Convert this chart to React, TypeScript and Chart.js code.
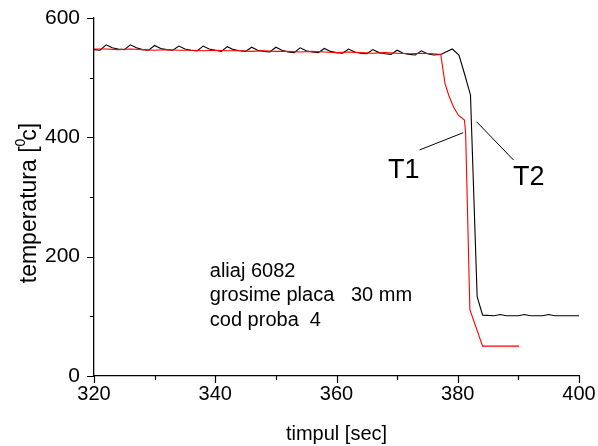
import React, { useEffect, useRef } from 'react';
import { Chart, registerables } from 'chart.js';

Chart.register(...registerables);

// T2 (black) thermocouple: time [s] and temperature [°C]
const T2_TIME = [
  320, 321, 322, 323, 324, 325, 326, 327, 328, 329, 330, 331, 332, 333, 334, 335, 336, 337, 338, 339,
  340, 341, 342, 343, 344, 345, 346, 347, 348, 349, 350, 351, 352, 353, 354, 355, 356, 357, 358, 359,
  360, 361, 362, 363, 364, 365, 366, 367, 368, 369, 370, 371, 372, 373, 374, 375, 376, 377.2, 379.1,
  380.2, 381.1, 382.1, 383.2, 384.1, 386, 387, 388, 390, 391, 392, 394, 395, 396, 398, 400,
];
const T2_TEMP = [
  547, 546, 555, 550, 548, 547, 555, 550, 547, 546, 554, 549, 547, 546, 553, 548, 546, 545, 553, 548,
  546, 544, 552, 547, 545, 544, 551, 546, 544, 543, 551, 546, 543, 542, 550, 545, 543, 542, 549, 544,
  542, 541, 548, 543, 541, 540, 547, 542, 540, 539, 546, 541, 539, 538, 545, 540, 538, 539, 548,
  538, 507, 471, 133, 102, 101, 103, 101, 101, 103, 101, 101, 103, 101, 101, 101,
];

// T1 (red) thermocouple
const T1_TIME = [
  320, 322, 324, 326, 328, 330, 332, 334, 336, 338, 340, 342, 344, 346, 348, 350, 352, 354, 356, 358,
  360, 362, 364, 366, 368, 370, 372, 374, 376, 377.2, 377.9, 378.5, 379.3, 380.1, 381.1, 381.3, 382,
  384.1, 390.1,
];
const T1_TEMP = [
  548, 548, 547, 548, 547, 546, 547, 546, 546, 545, 546, 545, 545, 544, 545, 544, 544, 543, 544, 543,
  542, 543, 542, 541, 542, 541, 540, 541, 540, 539, 490, 471, 451, 437, 429, 407, 111,
  50, 50,
];

const X_MIN = 320;
const X_MAX = 400;
const X_STEP = 10;
const X_LABEL_EVERY = 20;
const Y_MIN = 0;
const Y_MAX = 600;
const Y_STEP = 100;
const Y_LABEL_EVERY = 200;

const X_TITLE = 'timpul [sec]';
const Y_TITLE_PARTS = ['temperatura [', '0', 'c]'];
const INFO_LINES = ['aliaj 6082', 'grosime placa   30 mm', 'cod proba  4'];

const FONT = '"Liberation Sans", Arial, sans-serif';

const toPts = (xs: number[], ys: number[]) => xs.map((x, i) => ({ x, y: ys[i] }));

const decorPlugin = {
  id: 'decor',
  afterDraw(chart: any) {
    const ctx = chart.ctx as CanvasRenderingContext2D;
    const xs = chart.scales.x;
    const ys = chart.scales.y;
    const area = chart.chartArea;
    const px = (v: number) => xs.getPixelForValue(v);
    const py = (v: number) => ys.getPixelForValue(v);
    ctx.save();
    ctx.strokeStyle = '#000';
    ctx.lineWidth = 1.2;
    // tick marks (major / minor)
    ctx.beginPath();
    for (const t of xs.ticks) {
      const x = Math.round(px(t.value)) + 0.5;
      const len = t.value % X_LABEL_EVERY === 0 ? 7 : 4;
      ctx.moveTo(x, area.bottom);
      ctx.lineTo(x, area.bottom + len);
    }
    for (const t of ys.ticks) {
      const y = Math.round(py(t.value)) + 0.5;
      const len = t.value % Y_LABEL_EVERY === 0 ? 7 : 4;
      ctx.moveTo(area.left, y);
      ctx.lineTo(area.left - len, y);
    }
    ctx.stroke();

    // pointer lines for T1 / T2
    ctx.lineWidth = 1;
    ctx.beginPath();
    ctx.moveTo(px(373.7), py(378.8));
    ctx.lineTo(px(380.9), py(407.8));
    ctx.moveTo(px(383.1), py(426.2));
    ctx.lineTo(px(389.2), py(362));
    ctx.stroke();

    ctx.fillStyle = '#000';
    ctx.textBaseline = 'alphabetic';
    ctx.textAlign = 'left';
    ctx.font = `27px ${FONT}`;
    ctx.fillText('T1', px(368.5), py(331.8));
    ctx.fillText('T2', px(389.1), py(320));

    ctx.font = `20px ${FONT}`;
    const infoY = [165.9, 124.9, 84.6];
    INFO_LINES.forEach((s, i) => ctx.fillText(s, px(339.1), py(infoY[i])));

    // x title
    ctx.textAlign = 'center';
    ctx.fillText(X_TITLE, (area.left + area.right) / 2, 440);

    // y title (rotated, with superscript)
    ctx.save();
    ctx.translate(36, 203);
    ctx.rotate(-Math.PI / 2);
    ctx.textAlign = 'left';
    ctx.font = `23px ${FONT}`;
    const w1 = ctx.measureText(Y_TITLE_PARTS[0]).width;
    const w3 = ctx.measureText(Y_TITLE_PARTS[2]).width;
    ctx.font = `14px ${FONT}`;
    const w2 = ctx.measureText(Y_TITLE_PARTS[1]).width;
    const total = w1 + w2 - 2 + w3;
    let cx = -total / 2;
    ctx.font = `23px ${FONT}`;
    ctx.fillText(Y_TITLE_PARTS[0], cx, 0);
    cx += w1;
    ctx.font = `14px ${FONT}`;
    ctx.fillText(Y_TITLE_PARTS[1], cx, -11);
    cx += w2 - 2;
    ctx.font = `23px ${FONT}`;
    ctx.fillText(Y_TITLE_PARTS[2], cx, 0);
    ctx.restore();

    ctx.restore();
  },
};

const zeroPad = (s: any) => {
  s.paddingTop = 0;
  s.paddingBottom = 0;
  s.paddingLeft = 0;
  s.paddingRight = 0;
};

export default function App() {
  const ref = useRef<HTMLCanvasElement>(null);
  useEffect(() => {
    if (!ref.current) return;
    const chart = new Chart(ref.current, {
      type: 'line',
      data: {
        datasets: [
          {
            label: 'T1',
            data: toPts(T1_TIME, T1_TEMP),
            borderColor: '#ff0000',
            borderWidth: 1.1,
            pointRadius: 0,
            tension: 0,
            fill: false,
          },
          {
            label: 'T2',
            data: toPts(T2_TIME, T2_TEMP),
            borderColor: '#000000',
            borderWidth: 1.1,
            pointRadius: 0,
            tension: 0,
            fill: false,
          },
        ],
      },
      options: {
        animation: false,
        responsive: false,
        devicePixelRatio: 1,
        layout: { padding: { left: 0, top: 18, right: 19, bottom: 0 } },
        plugins: { legend: { display: false }, tooltip: { enabled: false } },
        scales: {
          x: {
            type: 'linear',
            min: X_MIN,
            max: X_MAX,
            grid: { display: false, drawTicks: false },
            border: { display: true, color: '#000', width: 1.3 },
            ticks: {
              stepSize: X_STEP,
              autoSkip: false,
              maxRotation: 0,
              padding: 6,
              color: '#000',
              font: { family: FONT, size: 20 },
              callback: (v: any) => (Number(v) % X_LABEL_EVERY === 0 ? String(v) : ''),
            },
            afterFit: (s: any) => {
              s.height = 70;
              zeroPad(s);
            },
          },
          y: {
            type: 'linear',
            min: Y_MIN,
            max: Y_MAX,
            grid: { display: false, drawTicks: false },
            border: { display: true, color: '#000', width: 1.3 },
            ticks: {
              stepSize: Y_STEP,
              autoSkip: false,
              padding: 14,
              color: '#000',
              font: { family: FONT, size: 21 },
              callback: (v: any) => (Number(v) % Y_LABEL_EVERY === 0 ? String(v) : ''),
            },
            afterFit: (s: any) => {
              s.width = 94;
              zeroPad(s);
            },
          },
        },
      },
      plugins: [decorPlugin],
    });
    return () => chart.destroy();
  }, []);
  return (
    <div style={{ position: 'absolute', left: 0, top: 0, width: 598, height: 446, background: '#fff' }}>
      <canvas ref={ref} width={598} height={446} style={{ display: 'block' }} />
    </div>
  );
}
